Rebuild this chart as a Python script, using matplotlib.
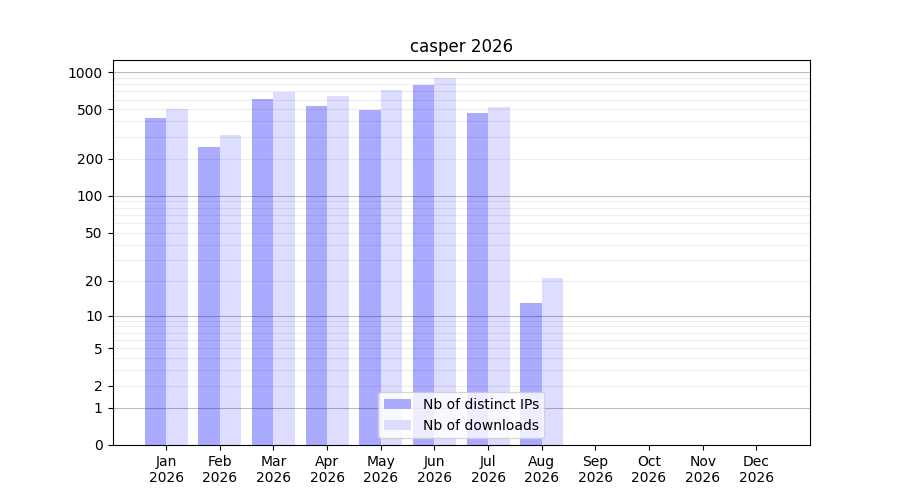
import numpy as np
import matplotlib
matplotlib.use('Agg')
from matplotlib import pyplot as plt

# monthly stats
months = ['Jan', 'Feb', 'Mar', 'Apr', 'May', 'Jun', 'Jul', 'Aug', 'Sep', 'Oct', 'Nov', 'Dec']
year = '2026'
distinct_ips = [427, 249, 607, 533, 495, 787, 468, 13, 0, 0, 0, 0]
downloads = [504, 311, 691, 642, 717, 897, 523, 21, 0, 0, 0, 0]
ytick_vals = [0, 1, 2, 5, 10, 20, 50, 100, 200, 500, 1000]


def fwd(v):
    return np.log10(1 + np.clip(v, 0, None))


def inv(v):
    return 10 ** v - 1


fig, ax = plt.subplots(figsize=(9, 5), dpi=100)
x = np.arange(len(months))
w = 0.4

ax.bar(x - w / 2, distinct_ips, w, color='#aaaaff', label='Nb of distinct IPs', zorder=1)
ax.bar(x + w / 2, downloads, w, color='#ddddff', label='Nb of downloads', zorder=1)

ax.set_yscale('function', functions=(fwd, inv))
ax.set_ylim(0, 1250)
ax.set_xlim(-1, 12)

ax.set_yticks(ytick_vals)
ax.set_yticklabels([str(v) for v in ytick_vals])
minor = [m * 10 ** d for d in range(3) for m in range(3, 10) if m != 5]
ax.set_yticks(minor, minor=True)
ax.tick_params(axis='y', which='minor', length=0)

ax.set_axisbelow(False)
ax.grid(True, axis='y', which='both', color='black', alpha=0.07, lw=0.8, zorder=2)
for d in [1, 10, 100, 1000]:
    ax.axhline(d, color='black', alpha=0.2, lw=0.8, zorder=2)

ax.set_xticks(x)
ax.set_xticklabels([m + '\n' + year for m in months])

ax.set_title('casper 2026')
ax.legend(loc='lower center')

fig.savefig('out.png')
